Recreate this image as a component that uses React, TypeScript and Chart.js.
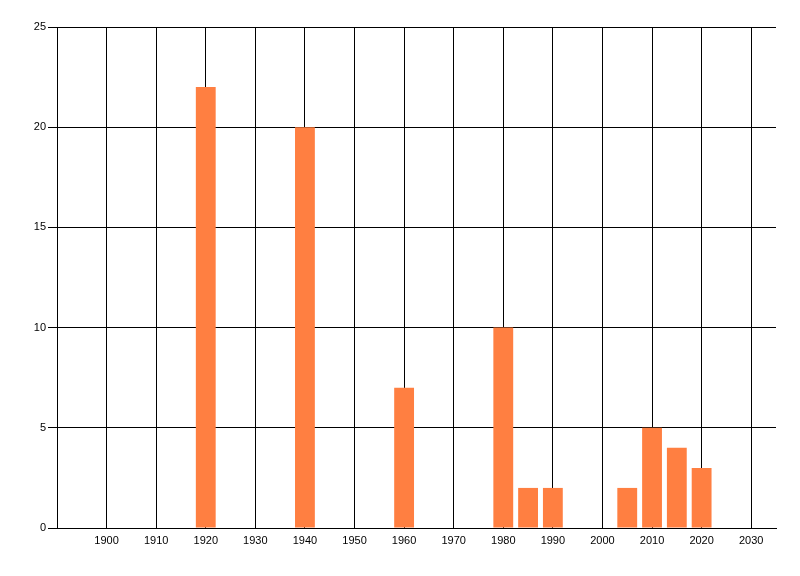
import React, { useEffect, useRef } from "react";
import { Chart, registerables } from "chart.js";

Chart.register(...registerables);

const years = [1920, 1940, 1960, 1980, 1985, 1990, 2005, 2010, 2015, 2020];
const counts = [22, 20, 7, 10, 2, 2, 2, 5, 4, 3];
const xTickValues = [1900, 1910, 1920, 1930, 1940, 1950, 1960, 1970, 1980, 1990, 2000, 2010, 2020, 2030];
const yTickValues = [0, 5, 10, 15, 20, 25];

export default function App() {
  const ref = useRef<HTMLCanvasElement | null>(null);

  useEffect(() => {
    document.body.style.margin = "0";
    const canvas = ref.current;
    if (!canvas) return;
    const font = { family: "'Liberation Sans', Arial, sans-serif", size: 11 };
    const chart = new Chart(canvas, {
      type: "bar",
      data: {
        datasets: [
          {
            data: years.map((y, i) => ({ x: y, y: counts[i] })),
            backgroundColor: "rgb(255,127,65)",
            borderWidth: 0,
            categoryPercentage: 1,
            barPercentage: 0.8,
          },
        ],
      },
      options: {
        responsive: false,
        animation: false,
        devicePixelRatio: 1,
        layout: { padding: { left: 0, top: 27, right: 24, bottom: 0 } },
        plugins: { legend: { display: false }, tooltip: { enabled: false } },
        scales: {
          x: {
            type: "linear",
            min: 1890,
            max: 2035,
            offset: false,
            afterBuildTicks: (scale: any) => {
              scale.ticks = xTickValues.map((v) => ({ value: v }));
            },
            afterFit: (scale: any) => {
              scale.height = 48;
            },
            grid: { color: "#000", lineWidth: 1, drawTicks: false, offset: false },
            border: { color: "#000", width: 1 },
            ticks: {
              color: "#000",
              font,
              padding: 6,
              maxRotation: 0,
              autoSkip: false,
              callback: (v: any) => String(v),
            },
          },
          y: {
            min: 0,
            max: 25,
            afterBuildTicks: (scale: any) => {
              scale.ticks = yTickValues.map((v) => ({ value: v }));
            },
            afterFit: (scale: any) => {
              scale.width = 57;
            },
            grid: { color: "#000", lineWidth: 1, drawTicks: true, tickLength: 9 },
            border: { color: "#000", width: 1 },
            ticks: { color: "#000", font, padding: 2, callback: (v: any) => String(v) },
          },
        },
      },
    });
    return () => chart.destroy();
  }, []);

  return (
    <canvas
      ref={ref}
      width={800}
      height={576}
      style={{ position: "absolute", left: 0, top: 0, width: 800, height: 576 }}
    />
  );
}
